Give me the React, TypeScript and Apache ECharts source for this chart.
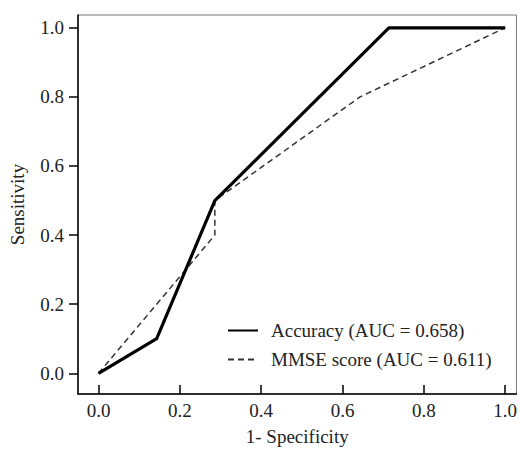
import React, { useEffect, useRef } from "react";
import * as echarts from "echarts";

const seriesNames = ["Accuracy (AUC = 0.658)", "MMSE score (AUC = 0.611)"];
const accuracyPoints: [number, number][] = [
  [0, 0],
  [0.143, 0.1],
  [0.286, 0.5],
  [0.714, 1.0],
  [0.857, 1.0],
  [1.0, 1.0],
];
const mmsePoints: [number, number][] = [
  [0, 0],
  [0.286, 0.4],
  [0.286, 0.5],
  [0.643, 0.8],
  [1.0, 1.0],
];
const xTicks = [0, 0.2, 0.4, 0.6, 0.8, 1.0];
const yTicks = [0, 0.2, 0.4, 0.6, 0.8, 1.0];
const xTitle = "1- Specificity";
const yTitle = "Sensitivity";

const FONT = "'Liberation Serif', 'Times New Roman', serif";
const TEXT = "#222";

export default function App() {
  const ref = useRef<HTMLDivElement>(null);
  useEffect(() => {
    if (!ref.current) return;
    const chart = echarts.init(ref.current, null, { renderer: "svg" });
    chart.setOption({
      animation: false,
      backgroundColor: "#fff",
      textStyle: { fontFamily: FONT },
      grid: {
        left: 75,
        top: 15,
        right: 3,
        bottom: 53,
        show: true,
        borderColor: "#777",
        borderWidth: 1,
      },
      legend: {
        orient: "vertical",
        left: 222,
        top: 316,
        itemWidth: 30,
        itemHeight: 20,
        itemGap: 10,
        data: seriesNames,
        itemStyle: { opacity: 0 },
        textStyle: { fontFamily: FONT, fontSize: 19, color: TEXT, padding: [0, 0, 0, 8] },
      },
      xAxis: {
        type: "value",
        min: -0.0505,
        max: 1.0276,
        name: xTitle,
        nameLocation: "middle",
        nameGap: 33,
        nameTextStyle: { fontFamily: FONT, fontSize: 19, color: TEXT },
        splitLine: { show: false },
        axisLine: { show: true, onZero: false, lineStyle: { color: "#000", width: 1.5 } },
        axisTick: {
          show: true,
          inside: true,
          length: 9,
          customValues: xTicks,
          lineStyle: { color: "#000", width: 1.5 },
        },
        axisLabel: {
          customValues: xTicks,
          margin: 7,
          fontFamily: FONT,
          fontSize: 19,
          color: TEXT,
          formatter: (v: number) => v.toFixed(1),
        },
      },
      yAxis: {
        type: "value",
        min: -0.06,
        max: 1.037,
        name: yTitle,
        nameLocation: "middle",
        nameGap: 51,
        nameTextStyle: { fontFamily: FONT, fontSize: 19, color: TEXT },
        splitLine: { show: false },
        axisLine: { show: true, onZero: false, lineStyle: { color: "#000", width: 1.5 } },
        axisTick: {
          show: true,
          inside: false,
          length: 9,
          customValues: yTicks,
          lineStyle: { color: "#000", width: 1.5 },
        },
        axisLabel: {
          customValues: yTicks,
          margin: 14,
          fontFamily: FONT,
          fontSize: 19,
          color: TEXT,
          formatter: (v: number) => v.toFixed(1),
        },
      },
      series: [
        {
          name: seriesNames[0],
          type: "line",
          data: accuracyPoints,
          symbol: "none",
          lineStyle: { color: "#000", width: 3.2 },
          itemStyle: { color: "#000" },
          z: 3,
        },
        {
          name: seriesNames[1],
          type: "line",
          data: mmsePoints,
          symbol: "none",
          lineStyle: { color: "#333", width: 1.5, type: [6, 4] },
          itemStyle: { color: "#333" },
          z: 2,
        },
      ],
    });
    return () => chart.dispose();
  }, []);
  return (
    <div
      ref={ref}
      style={{ position: "absolute", left: 0, top: 0, width: 520, height: 451 }}
    />
  );
}
